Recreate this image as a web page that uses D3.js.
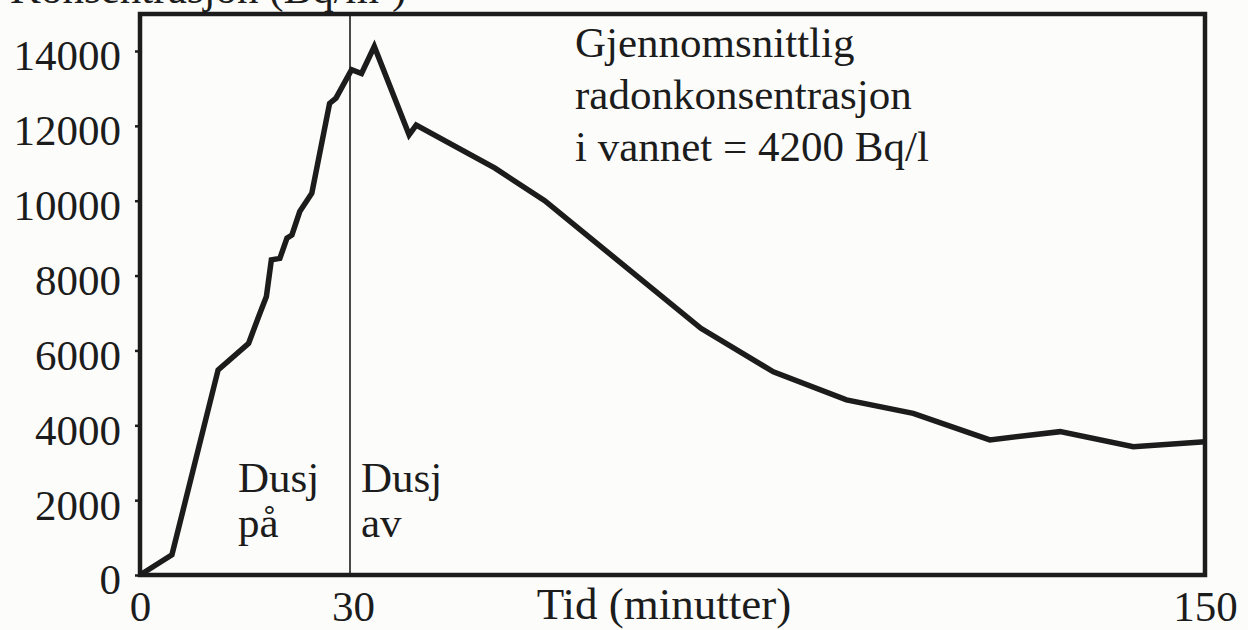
<!DOCTYPE html>
<html>
<head>
<meta charset="utf-8">
<script src="https://cdn.jsdelivr.net/npm/d3@7"></script>
<style>
  html, body { margin: 0; padding: 0; background: #fcfcfb; }
  svg { display: block; }
  text { font-family: "Liberation Serif", "Times New Roman", serif; fill: #1c1c1c; }
</style>
</head>
<body>
<svg id="chart" width="1248" height="630"></svg>
<script>
// ---- data ----
const timeMin = [0, 4.5, 11, 15.3, 16.7, 17.8, 18.5, 19.7, 20.7, 21.4, 22.5, 24.2, 26.7, 27.6, 29.8, 31.2, 33.0, 37.9, 38.9, 50, 57, 79, 89.2, 99.5, 108.9, 119.7, 129.6, 139.9, 150];
const radonBq = [0, 540, 5480, 6190, 6900, 7440, 8420, 8460, 9000, 9085, 9710, 10200, 12600, 12740, 13500, 13400, 14120, 11760, 12020, 10870, 10000, 6590, 5430, 4680, 4320, 3610, 3830, 3430, 3560];
const yTicks = [0, 2000, 4000, 6000, 8000, 10000, 12000, 14000];
const xTickLabels = [0, 30, 150];
const showerOffAt = 30;
const yTitle = "Konsentrasjon (Bq/m³)";
const xTitle = "Tid (minutter)";
const noteLines = ["Gjennomsnittlig", "radonkonsentrasjon", "i vannet = 4200 Bq/l"];
const onLines = ["Dusj", "på"];
const offLines = ["Dusj", "av"];

// ---- layout ----
const svg = d3.select("#chart");
const L = 140, R = 1205, T = 14, B = 575;
const x = d3.scaleLinear().domain([0, 150]).range([L, R]);
const y = d3.scaleLinear().domain([0, 15000]).range([B, B - (B - 51) * 15000 / 14000]);
const ink = "#1c1c1c";

// cropped axis title at very top (cut off as in the source scan)
svg.append("text").attr("x", 10).attr("y", 3)
  .attr("font-size", 43).text(yTitle);

// y axis ticks + labels
const yAxis = d3.axisLeft(y).tickValues(yTicks).tickSize(5).tickPadding(14).tickFormat(d3.format("d"));
const gy = svg.append("g").attr("transform", `translate(${L},0)`).call(yAxis);
gy.select(".domain").remove();
gy.selectAll(".tick line").attr("stroke", ink).attr("stroke-width", 2.5);
gy.selectAll(".tick text").attr("font-size", 43).attr("fill", ink)
  .attr("font-family", "Liberation Serif, serif").attr("dy", "0.44em");

// x axis labels (no tick marks)
const xAxis = d3.axisBottom(x).tickValues(xTickLabels).tickSize(0).tickPadding(29).tickFormat(d3.format("d"));
const gx = svg.append("g").attr("transform", `translate(0,${B})`).call(xAxis);
gx.select(".domain").remove();
gx.selectAll(".tick text").attr("font-size", 43).attr("fill", ink)
  .attr("font-family", "Liberation Serif, serif").attr("dy", "0.4em");

svg.append("text").attr("x", 664).attr("y", 619).attr("text-anchor", "middle")
  .attr("font-size", 45).text(xTitle);

// shower-off line
svg.append("line").attr("x1", x(showerOffAt) - 3).attr("x2", x(showerOffAt) - 3)
  .attr("y1", T).attr("y2", B).attr("stroke", ink).attr("stroke-width", 1.6);

// data line
const line = d3.line().x((d, i) => x(timeMin[i])).y(d => y(d));
svg.append("path").datum(radonBq).attr("d", line)
  .attr("fill", "none").attr("stroke", ink).attr("stroke-width", 5.5)
  .attr("stroke-linejoin", "miter").attr("stroke-miterlimit", 3);

// frame
svg.append("path")
  .attr("d", `M${L},${B}V${T}H${R}V${B}Z`)
  .attr("fill", "none").attr("stroke", ink).attr("stroke-width", 4.5);

// annotations
const note = svg.append("text").attr("font-size", 43);
noteLines.forEach((t, i) => note.append("tspan").attr("x", 575).attr("y", 57 + i * 52).text(t));

const on = svg.append("text").attr("font-size", 43);
onLines.forEach((t, i) => on.append("tspan").attr("x", 238).attr("y", 492 + i * 45).text(t));
const off = svg.append("text").attr("font-size", 43);
offLines.forEach((t, i) => off.append("tspan").attr("x", 361).attr("y", 492 + i * 45).text(t));
</script>
</body>
</html>
